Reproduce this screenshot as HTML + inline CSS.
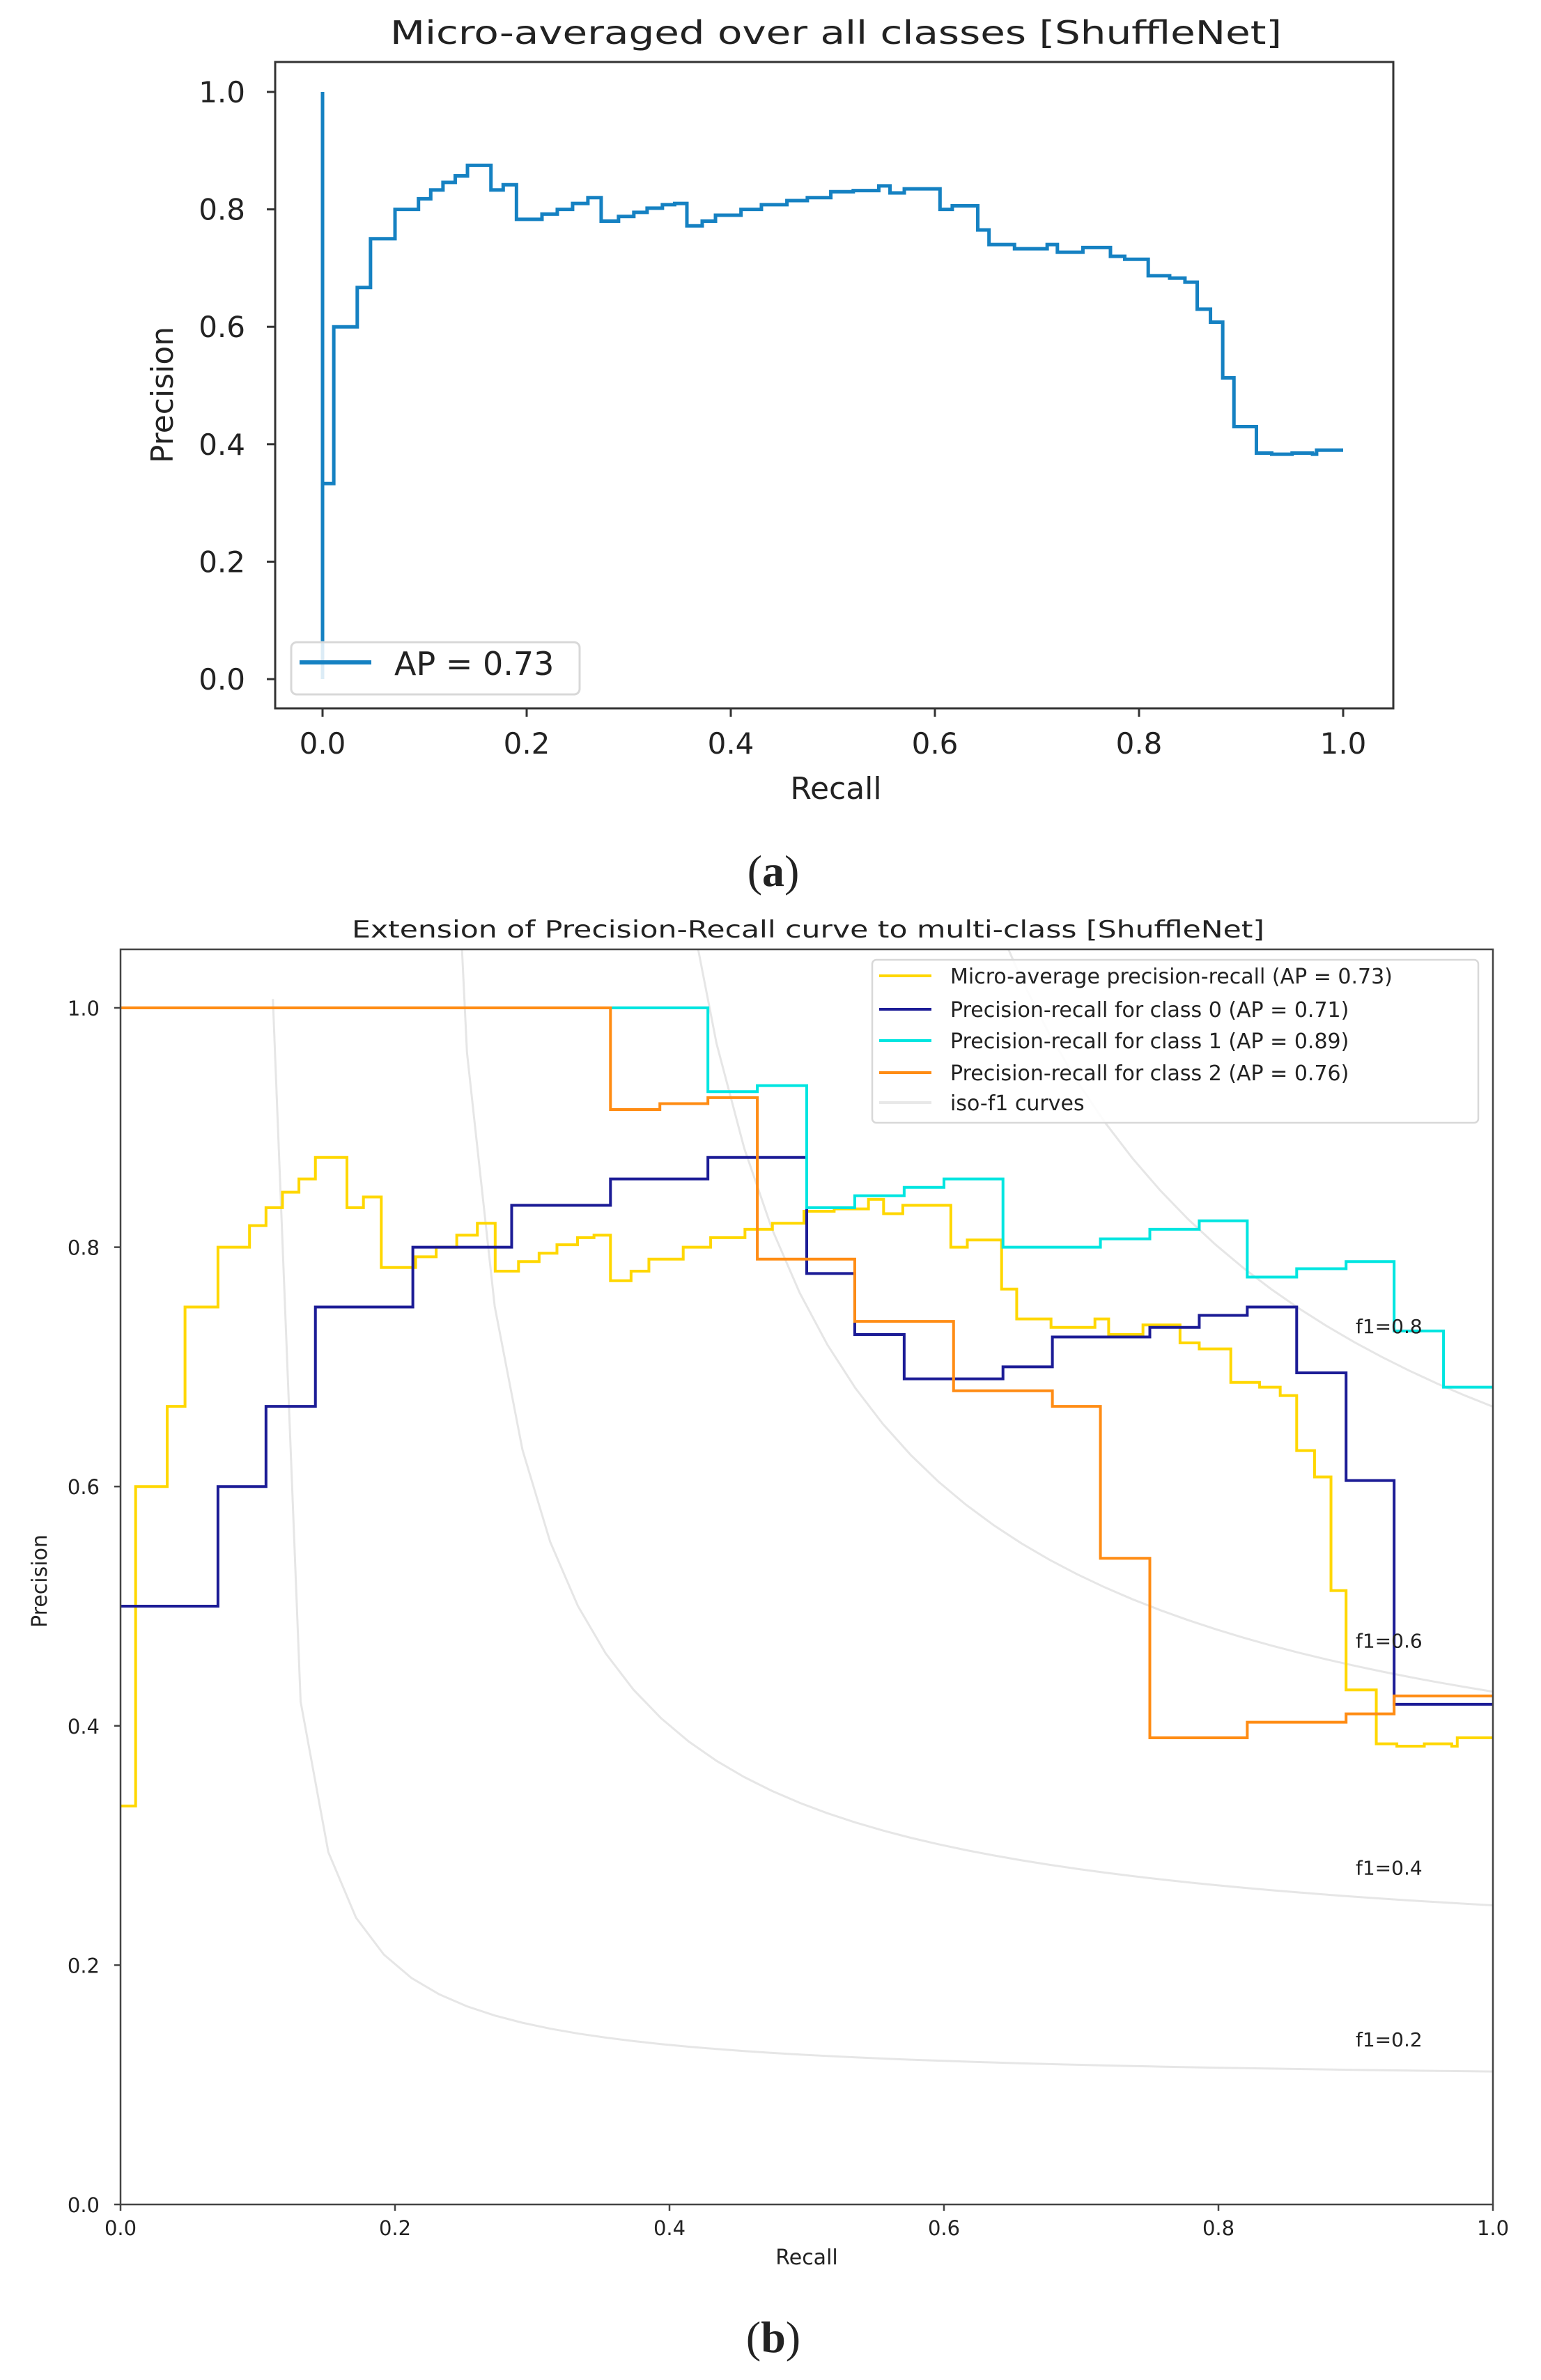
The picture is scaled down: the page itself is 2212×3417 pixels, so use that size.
<!DOCTYPE html>
<html><head><meta charset="utf-8"><style>
html,body{margin:0;padding:0;background:#fff;}
svg{display:block;}
text{font-family:"DejaVu Sans","Liberation Sans",sans-serif;fill:#222;}
</style></head><body>
<svg id="root" width="2212" height="3417" viewBox="0 0 2212 3417" xmlns="http://www.w3.org/2000/svg">
<defs>
<clipPath id="clipA"><rect x="395" y="89" width="1605" height="928"/></clipPath>
<clipPath id="clipB"><rect x="173" y="1363" width="1970" height="1802"/></clipPath>
</defs>
<rect x="0" y="0" width="2212" height="3417" fill="#fff"/>

<g id="chartA">
<text x="1200" y="63" text-anchor="middle" font-size="46" textLength="1280" lengthAdjust="spacingAndGlyphs">Micro-averaged over all classes [ShuffleNet]</text>
<g id="aSeries" clip-path="url(#clipA)"></g>
<rect x="395" y="89" width="1605" height="928" fill="none" stroke="#333" stroke-width="3"/>
<g id="aTicks"></g>
<text x="1200" y="1147" text-anchor="middle" font-size="44">Recall</text>
<text transform="translate(248,567) rotate(-90)" text-anchor="middle" font-size="44">Precision</text>
<g>
<rect x="418" y="922" width="414" height="75" rx="8" fill="#fff" fill-opacity="0.85" stroke="#d8d8d8" stroke-width="3"/>
<line x1="430" y1="951" x2="533" y2="951" stroke="#1581c2" stroke-width="6"/>
<text x="566" y="969" font-size="46">AP = 0.73</text>
</g>
</g>
<text x="1110" y="1272" text-anchor="middle" font-size="64" style="font-family:'Liberation Serif',serif">(<tspan font-weight="bold">a</tspan>)</text>

<g id="chartB">
<text x="1160" y="1346" text-anchor="middle" font-size="34" textLength="1310" lengthAdjust="spacingAndGlyphs">Extension of Precision-Recall curve to multi-class [ShuffleNet]</text>
<g id="bIso" clip-path="url(#clipB)"></g>
<g id="bSeries" clip-path="url(#clipB)"></g>
<g id="bIsoLabels"></g>
<rect x="173" y="1363" width="1970" height="1802" fill="none" stroke="#444" stroke-width="2.5"/>
<g id="bTicks"></g>
<text x="1158" y="3251" text-anchor="middle" font-size="30">Recall</text>
<text transform="translate(67,2270) rotate(-90)" text-anchor="middle" font-size="30">Precision</text>
<g>
<rect x="1252" y="1378" width="870" height="234" rx="6" fill="#fff" fill-opacity="0.85" stroke="#d8d8d8" stroke-width="2.5"/>
<g id="bLegend"></g>
</g>
</g>
<text x="1110" y="3377" text-anchor="middle" font-size="64" style="font-family:'Liberation Serif',serif">(<tspan font-weight="bold">b</tspan>)</text>
</svg>
<script>
const xTicks = [0, 0.2, 0.4, 0.6, 0.8, 1.0];
const xTickLabels = ["0.0","0.2","0.4","0.6","0.8","1.0"];
const yTicks = [0, 0.2, 0.4, 0.6, 0.8, 1.0];
const yTickLabels = ["0.0","0.2","0.4","0.6","0.8","1.0"];
const microRecall = [0,0.011,0.034,0.047,0.071,0.094,0.106,0.118,0.13,0.142,0.165,0.177,0.19,0.215,0.23,0.245,0.26,0.273,0.29,0.305,0.318,0.333,0.345,0.357,0.372,0.385,0.41,0.43,0.455,0.475,0.498,0.52,0.545,0.556,0.57,0.605,0.617,0.642,0.653,0.678,0.7,0.71,0.72,0.745,0.772,0.786,0.809,0.83,0.845,0.857,0.87,0.882,0.893,0.915,0.93,0.95,0.97,0.974,1.0];
const microPrecision = [0.333,0.6,0.667,0.75,0.8,0.818,0.833,0.846,0.857,0.875,0.833,0.842,0.783,0.792,0.8,0.81,0.82,0.78,0.788,0.795,0.802,0.808,0.81,0.772,0.78,0.79,0.8,0.808,0.815,0.82,0.83,0.832,0.84,0.828,0.835,0.8,0.806,0.765,0.74,0.733,0.733,0.74,0.727,0.735,0.72,0.715,0.687,0.683,0.676,0.63,0.608,0.513,0.43,0.385,0.383,0.385,0.383,0.39,0.39];
const microStartHigh = 1.0;
const microStartLow = 0.0;
const class0Recall = [0,0.071,0.106,0.142,0.213,0.285,0.357,0.428,0.5,0.535,0.571,0.643,0.679,0.75,0.786,0.821,0.857,0.893,0.928,1.0];
const class0Precision = [0.5,0.6,0.667,0.75,0.8,0.835,0.857,0.875,0.778,0.727,0.69,0.70,0.725,0.733,0.743,0.75,0.695,0.605,0.418,0.418];
const class1Recall = [0,0.428,0.464,0.5,0.535,0.571,0.6,0.643,0.714,0.75,0.786,0.821,0.857,0.893,0.928,0.964,1.0];
const class1Precision = [1.0,0.93,0.935,0.833,0.843,0.85,0.857,0.8,0.807,0.815,0.822,0.775,0.782,0.788,0.73,0.683,0.683];
const class2Recall = [0,0.357,0.393,0.428,0.464,0.535,0.607,0.679,0.714,0.75,0.821,0.893,0.928,1.0];
const class2Precision = [1.0,0.915,0.92,0.925,0.79,0.738,0.68,0.667,0.54,0.39,0.403,0.41,0.425,0.425];
const isoF1 = [0.2, 0.4, 0.6, 0.8];
const legendLabels = ["Micro-average precision-recall (AP = 0.73)","Precision-recall for class 0 (AP = 0.71)","Precision-recall for class 1 (AP = 0.89)","Precision-recall for class 2 (AP = 0.76)","iso-f1 curves"];
const legendColors = ["#ffd700","#1c1c96","#00e5e0","#ff8c14","#e8e8e8"];

const NS = "http://www.w3.org/2000/svg";
function mk(tag, attrs, parent){const e=document.createElementNS(NS,tag);for(const k in attrs)e.setAttribute(k,attrs[k]);parent.appendChild(e);return e;}

const axA = {x:r=>463+r*1465, y:p=>975-p*843};
const axB = {x:r=>173+r*1970, y:p=>3165-p*1718};

function stepPath(ax, rec, prec){
  let d = "M"+ax.x(rec[0])+","+ax.y(prec[0]);
  for(let i=1;i<rec.length;i++){ d += " H"+ax.x(rec[i])+" V"+ax.y(prec[i]); }
  return d;
}

const aT = document.getElementById("aTicks");
xTicks.forEach((v,i)=>{
  const t=mk("line",{x1:axA.x(v),x2:axA.x(v),y1:1017,y2:1029,stroke:"#333","stroke-width":3},aT);
  
  
  const l=mk("text",{x:axA.x(v),y:1082,"text-anchor":"middle","font-size":42},aT);
  l.textContent=xTickLabels[i];
  
  
});
yTicks.forEach((v,i)=>{
  const t=mk("line",{x1:383,x2:395,y1:axA.y(v),y2:axA.y(v),stroke:"#333","stroke-width":3},aT);
  
  
  const l=mk("text",{x:352,y:axA.y(v)+15,"text-anchor":"end","font-size":42},aT);
  l.textContent=yTickLabels[i];
  
  
});
const aS=document.getElementById("aSeries");
const aStart=mk("line",{x1:axA.x(0),x2:axA.x(0),y1:axA.y(microStartHigh),y2:axA.y(microStartLow),stroke:"#1581c2","stroke-width":5},aS);


const aLine=mk("path",{d:stepPath(axA,microRecall,microPrecision),fill:"none",stroke:"#1581c2","stroke-width":5},aS);



const bI=document.getElementById("bIso");
const bIL=document.getElementById("bIsoLabels");
isoF1.forEach(f=>{
  const xs=[],ys=[];
  for(let i=0;i<50;i++){const x=0.01+i*(0.99/49);const y=f*x/(2*x-f);xs.push(x);ys.push(y);}
  let d="";
  for(let i=0;i<50;i++){ if(ys[i]>=0){ const yy=Math.min(ys[i],5); d+=(d?" L":"M")+axB.x(xs[i])+","+axB.y(yy);} }
  const p=mk("path",{d:d,fill:"none",stroke:"#e6e6e6","stroke-width":3},bI);
  
  
  const t=mk("text",{x:axB.x(0.9),y:axB.y(ys[45]+0.02),"font-size":28},bIL);
  t.textContent="f1="+f.toFixed(1);
  
  
});
const bS=document.getElementById("bSeries");
const series=[[microRecall,microPrecision,legendColors[0],"micro-average-curve"],[class0Recall,class0Precision,legendColors[1],"class-0-curve"],[class1Recall,class1Precision,legendColors[2],"class-1-curve"],[class2Recall,class2Precision,legendColors[3],"class-2-curve"]];
series.forEach(s=>{
  const p=mk("path",{d:stepPath(axB,s[0],s[1]),fill:"none",stroke:s[2],"stroke-width":4},bS);
  
  
});
const bT=document.getElementById("bTicks");
xTicks.forEach((v,i)=>{
  const t=mk("line",{x1:axB.x(v),x2:axB.x(v),y1:3165,y2:3174,stroke:"#444","stroke-width":2.5},bT);
  
  
  const l=mk("text",{x:axB.x(v),y:3209,"text-anchor":"middle","font-size":29},bT);
  l.textContent=xTickLabels[i];
  
  
});
yTicks.forEach((v,i)=>{
  const t=mk("line",{x1:164,x2:173,y1:axB.y(v),y2:axB.y(v),stroke:"#444","stroke-width":2.5},bT);
  
  
  const l=mk("text",{x:143,y:axB.y(v)+11,"text-anchor":"end","font-size":29},bT);
  l.textContent=yTickLabels[i];
  
  
});
const bL=document.getElementById("bLegend");
const legY=[1401,1449,1494,1540,1583];
legendLabels.forEach((lab,i)=>{
  const ln=mk("line",{x1:1262,x2:1337,y1:legY[i],y2:legY[i],stroke:legendColors[i],"stroke-width":4},bL);
  
  
  const t=mk("text",{x:1364,y:legY[i]+11,"font-size":30},bL);
  t.textContent=lab;
  
  
});
</script>
</body></html>
